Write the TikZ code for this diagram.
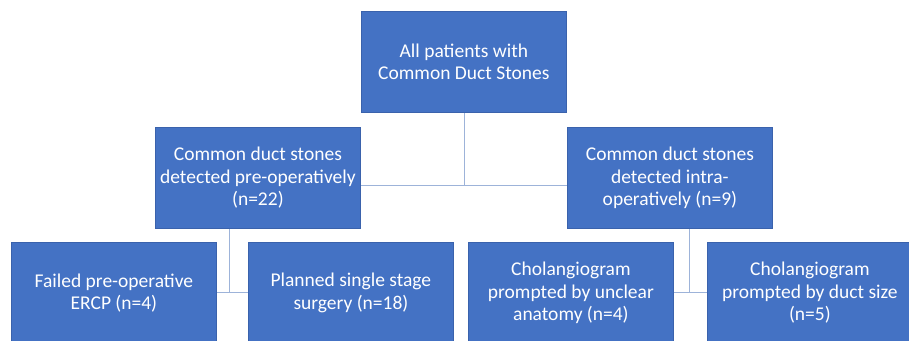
\documentclass[tikz,border=0pt]{standalone}
\usepackage{fontspec}
\setmainfont{Carlito}
\definecolor{boxblue}{HTML}{4472C4}
\definecolor{boxedge}{HTML}{3A62AC}
\definecolor{linkc}{HTML}{9DB3D9}
\begin{document}
\begin{tikzpicture}[x=1pt,y=-1pt,
  box/.style={draw=boxedge,line width=0.8pt,fill=boxblue,text=white,align=center,
    minimum width=205pt,minimum height=101pt,inner sep=0pt,anchor=north west,
    font=\fontsize{19.5}{22.5}\selectfont},
  link/.style={draw=linkc,line width=0.9pt}]
\clip (0,0) rectangle (909,340);
\fill[white] (0,0) rectangle (909,340);
\node[box] (top) at (361,11) {All patients with\\Common Duct Stones};
\node[box] (lm) at (155,127) {Common duct stones\\detected pre-operatively\\(n=22)};
\node[box] (rm) at (567,127) {Common duct stones\\detected intra-\\operatively (n=9)};
\node[box] (b1) at (11,242) {Failed pre-operative\\ERCP (n=4)};
\node[box] (b2) at (248,242) {Planned single stage\\surgery (n=18)};
\node[box] (b3) at (468,242) {Cholangiogram\\prompted by unclear\\anatomy (n=4)};
\node[box] (b4) at (707,242) {Cholangiogram\\prompted by duct size\\(n=5)};
\coordinate (j1) at (464,185);
\coordinate (j2) at (229,292);
\coordinate (j3) at (689,292);
\draw[link] (top.south -| j1) -- (j1);
\draw[link] (lm.east |- j1) -- (rm.west |- j1);
\draw[link] (lm.south -| j2) -- (j2);
\draw[link] (b1.east |- j2) -- (b2.west |- j2);
\draw[link] (rm.south -| j3) -- (j3);
\draw[link] (b3.east |- j3) -- (b4.west |- j3);
\end{tikzpicture}
\end{document}
